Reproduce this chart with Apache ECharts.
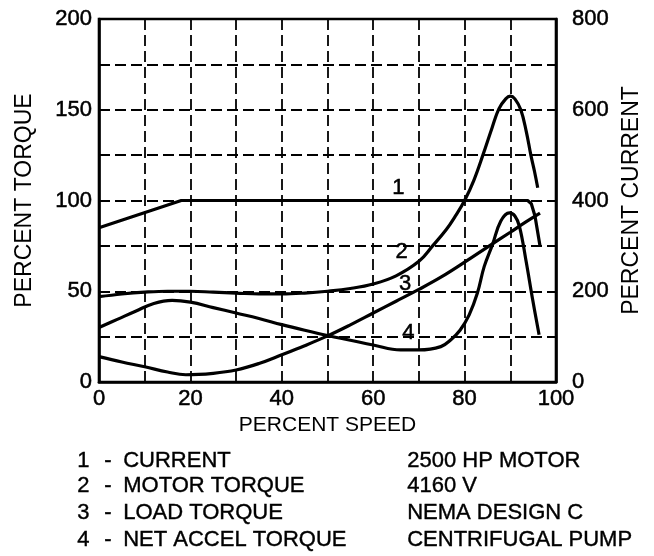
<!DOCTYPE html>
<html>
<head>
<meta charset="utf-8">
<script src="https://cdn.jsdelivr.net/npm/echarts@6/dist/echarts.min.js"></script>
<style>
  html, body { margin: 0; padding: 0; background: #fff; }
  #chart { width: 654px; height: 556px; }
</style>
</head>
<body>
<div id="chart"></div>
<script>
// Speed (% of synchronous) vs. value for each curve
const currentPts = [[0, 340], [18, 400], [40, 400], [60, 400], [80, 400], [93.8, 400], [94.6, 393], [95.4, 366], [96.5, 300]];
const motorTorquePts = [[0, 47], [5, 48.5], [10, 49.5], [15, 50], [20, 50], [25, 49.5], [30, 49], [35, 48.5], [40, 48.5], [45, 49], [50, 50], [55, 51.5], [60, 54], [65, 58.5], [70, 66.5], [73, 75], [76, 84], [78, 91.5], [80, 100], [82, 111], [84, 125], [86, 140], [87.5, 150.5], [89, 156], [90, 157.5], [91, 156], [92.3, 150], [93.5, 138], [94.5, 125], [95.3, 116], [96, 107]];
const loadTorquePts = [[0, 14], [5, 11], [10, 8.4], [15, 5.5], [19, 4], [25, 4.8], [30, 6.6], [35, 10.2], [40, 15], [45, 20], [50, 25.4], [55, 31.5], [60, 38], [65, 44.5], [70, 51], [75, 58], [80, 66], [85, 74.3], [90, 82.5], [93, 87.5], [96.5, 93]];
const netAccelPts = [[0, 30], [4, 34.5], [8, 39], [12, 43.3], [16, 45], [20, 44], [25, 41], [30, 38], [35, 35], [40, 31.6], [45, 28.5], [50, 25.6], [55, 23], [60, 20.4], [66, 17.7], [70, 17.7], [74.8, 19.5], [77, 23.3], [79, 28.5], [81, 37], [82.8, 49], [84.3, 63.7], [86.1, 75.7], [87.9, 88.6], [89.8, 93.2], [91, 91.5], [92, 85.8], [93.4, 67.4], [94.9, 45.3], [96.3, 26]];

// Curve number tags: [speed, torque, tag]
const curveTags = [[65.5, 106.7, '1'], [66.2, 71.8, '2'], [67, 54, '3'], [67.7, 26.8, '4']];

// Key below the plot
const keyNumbers = ['1', '2', '3', '4'];
const keyNames = ['CURRENT', 'MOTOR TORQUE', 'LOAD TORQUE', 'NET ACCEL TORQUE'];
const motorNotes = ['2500 HP MOTOR', '4160 V', 'NEMA DESIGN C', 'CENTRIFUGAL PUMP'];

const FONT = "'Liberation Sans', Arial, Helvetica, sans-serif";
const INK = '#000';

const chart = echarts.init(document.getElementById('chart'), null, { renderer: 'canvas' });

const dashed = { show: true, lineStyle: { color: INK, width: 1.8, type: [11, 5] } };
const tickText = { color: INK, fontFamily: FONT, fontSize: 22, textBorderColor: INK, textBorderWidth: 0.5 };

const curveStyle = { color: INK, width: 3.2 };

const keyGraphics = [];
const rowY = [460.5, 486, 512.5, 539.5];
keyNumbers.forEach((n, i) => {
  const common = { fill: INK, font: '22px ' + FONT, textVerticalAlign: 'middle', stroke: INK, lineWidth: 0.4 };
  keyGraphics.push({ type: 'text', left: 77, top: rowY[i] - 11, style: Object.assign({ text: n }, common) });
  keyGraphics.push({ type: 'text', left: 104, top: rowY[i] - 11, style: Object.assign({ text: '-' }, common) });
  keyGraphics.push({ type: 'text', left: 123, top: rowY[i] - 11, style: Object.assign({ text: keyNames[i] }, common) });
  keyGraphics.push({ type: 'text', left: 407, top: rowY[i] - 11, style: Object.assign({ text: motorNotes[i] }, common) });
});

chart.setOption({
  animation: false,
  backgroundColor: '#fff',
  grid: {
    left: 99, right: 98, top: 19, bottom: 174,
    show: true, borderColor: INK, borderWidth: 2.6, backgroundColor: 'transparent'
  },
  xAxis: {
    type: 'value', min: 0, max: 100, interval: 10,
    name: 'PERCENT SPEED', nameLocation: 'middle', nameGap: 33,
    nameTextStyle: { color: INK, fontFamily: FONT, fontSize: 21 },
    axisLine: { show: true, lineStyle: { color: INK, width: 2.6 } },
    axisTick: { show: false },
    axisLabel: Object.assign({ margin: 6, formatter: v => (v % 20 === 0 ? String(v) : '') }, tickText),
    splitLine: dashed
  },
  yAxis: [
    {
      type: 'value', min: 0, max: 200, interval: 25, position: 'left',
      name: 'PERCENT TORQUE', nameLocation: 'middle', nameGap: 63, nameRotate: 90,
      nameTextStyle: { color: INK, fontFamily: FONT, fontSize: 23 },
      axisLine: { show: true, lineStyle: { color: INK, width: 2.6 } },
      axisTick: { show: false },
      axisLabel: Object.assign({ margin: 7, formatter: v => (v % 50 === 0 ? String(v) : '') }, tickText),
      splitLine: dashed
    },
    {
      type: 'value', min: 0, max: 800, interval: 100, position: 'right',
      name: 'PERCENT CURRENT', nameLocation: 'middle', nameGap: 64, nameRotate: 90,
      nameTextStyle: { color: INK, fontFamily: FONT, fontSize: 23 },
      axisLine: { show: true, lineStyle: { color: INK, width: 2.6 } },
      axisTick: { show: false },
      axisLabel: Object.assign({ margin: 16, formatter: v => (v % 200 === 0 ? String(v) : '') }, tickText),
      splitLine: { show: false }
    }
  ],
  series: [
    { name: 'CURRENT', type: 'line', yAxisIndex: 1, data: currentPts, showSymbol: false, lineStyle: curveStyle, z: 5 },
    { name: 'MOTOR TORQUE', type: 'line', yAxisIndex: 0, data: motorTorquePts, smooth: 0.4, showSymbol: false, lineStyle: curveStyle, z: 5 },
    { name: 'LOAD TORQUE', type: 'line', yAxisIndex: 0, data: loadTorquePts, smooth: 0.4, showSymbol: false, lineStyle: curveStyle, z: 5 },
    { name: 'NET ACCEL TORQUE', type: 'line', yAxisIndex: 0, data: netAccelPts, smooth: 0.4, showSymbol: false, lineStyle: curveStyle, z: 5 },
    {
      type: 'scatter', yAxisIndex: 0, data: curveTags, symbolSize: 0, itemStyle: { color: INK, opacity: 1 }, z: 6,
      emphasis: { disabled: true }, silent: true,
      label: { show: true, position: 'inside', formatter: p => p.data[2], color: INK, opacity: 1, fontFamily: FONT, fontSize: 22, textBorderColor: INK, textBorderWidth: 0.5 }
    }
  ],
  graphic: keyGraphics
});
</script>
</body>
</html>
